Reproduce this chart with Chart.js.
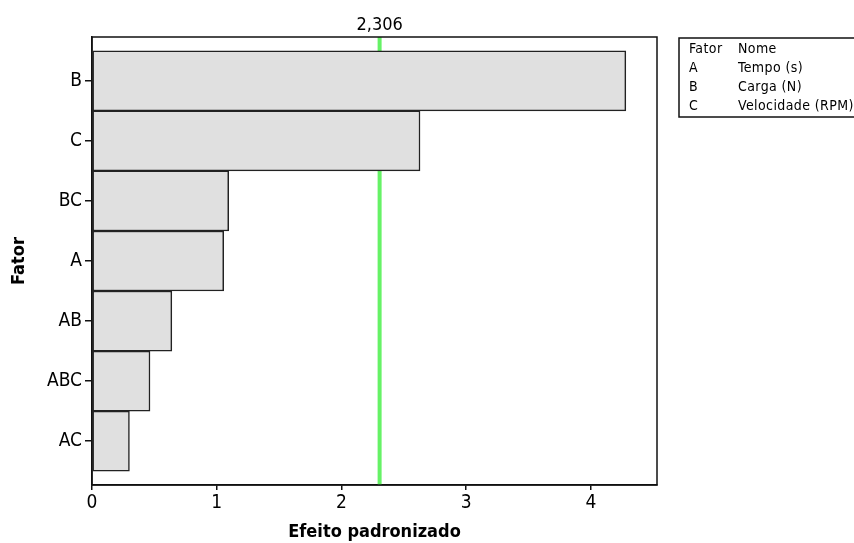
<!DOCTYPE html>
<html>
<head>
<meta charset="utf-8">
<script src="https://cdn.jsdelivr.net/npm/chart.js@4/dist/chart.umd.min.js"></script>
<style>
  html, body { margin: 0; padding: 0; background: #fff; }
  #wrap { width: 854px; height: 543px; }
</style>
</head>
<body>
<div id="wrap"><canvas id="chart" width="854" height="543"></canvas></div>
<script>
// fatores do gráfico de Pareto
const fatores = ['B', 'C', 'BC', 'A', 'AB', 'ABC', 'AC'];
const efeitos = [4.28, 2.63, 1.096, 1.056, 0.64, 0.465, 0.30];
const limite = 2.306;
const limiteTexto = '2,306';
const xTicks = [0, 1, 2, 3, 4];

const legendaFatores = ['Fator', 'A', 'B', 'C'];
const legendaNomes = ['Nome', 'Tempo (s)', 'Carga (N)', 'Velocidade (RPM)'];

const FONT = '"DejaVu Sans Condensed", "DejaVu Sans", sans-serif';

// linha verde de referência + texto
const linhaLimite = {
  id: 'linhaLimite',
  beforeDatasetsDraw(chart) {
    const { ctx, chartArea, scales } = chart;
    const x = scales.x.getPixelForValue(limite);
    ctx.save();
    ctx.strokeStyle = '#66f266';
    ctx.lineWidth = 4;
    ctx.beginPath();
    ctx.moveTo(x, chartArea.top);
    ctx.lineTo(x, chartArea.bottom);
    ctx.stroke();
    ctx.fillStyle = '#000';
    ctx.font = '18px ' + FONT;
    ctx.textAlign = 'center';
    ctx.textBaseline = 'bottom';
    ctx.fillText(limiteTexto, x, chartArea.top - 3);
    ctx.restore();
  },
  afterDatasetsDraw(chart) {
    const { ctx, chartArea } = chart;
    ctx.save();
    ctx.strokeStyle = '#111';
    ctx.lineWidth = 1.5;
    ctx.strokeRect(chartArea.left, chartArea.top, chartArea.right - chartArea.left, chartArea.bottom - chartArea.top);
    ctx.restore();
  }
};

// caixa com os nomes dos fatores
const tabelaFatores = {
  id: 'tabelaFatores',
  afterDraw(chart) {
    const ctx = chart.ctx;
    ctx.save();
    ctx.strokeStyle = '#111';
    ctx.lineWidth = 1.5;
    ctx.strokeRect(679, 38, 180, 79);
    ctx.fillStyle = '#000';
    ctx.font = '14px ' + FONT;
    ctx.letterSpacing = '0.4px';
    ctx.textBaseline = 'middle';
    ctx.textAlign = 'left';
    legendaFatores.forEach((f, i) => {
      const y = 49 + i * 19;
      ctx.fillText(f, 689, y);
      ctx.fillText(legendaNomes[i], 738, y);
    });
    ctx.restore();
  }
};

new Chart(document.getElementById('chart'), {
  type: 'bar',
  data: {
    datasets: [{
      data: efeitos.map((v, i) => ({ x: v, y: i })),
      backgroundColor: '#e0e0e0',
      borderColor: '#222',
      borderWidth: 1.5,
      borderSkipped: false,
      categoryPercentage: 1,
      barPercentage: 1
    }]
  },
  options: {
    indexAxis: 'y',
    responsive: false,
    animation: false,
    layout: { padding: { top: 37, right: 197, left: 0, bottom: 0 } },
    plugins: { legend: { display: false }, tooltip: { enabled: false } },
    scales: {
      x: {
        type: 'linear',
        min: 0,
        max: 4.53,
        afterFit(s) { s.height = 58; },
        afterBuildTicks(s) { s.ticks = xTicks.map(v => ({ value: v })); },
        ticks: { stepSize: 1, includeBounds: false, color: '#000', font: { family: FONT, size: 19 }, padding: 2 },
        grid: { display: true, drawOnChartArea: false, tickLength: 5, color: '#111', lineWidth: 1.5 },
        border: { display: true, color: '#111', width: 1.5 },
        title: { display: true, text: 'Efeito padronizado', color: '#000', font: { family: FONT, size: 18, weight: 'bold' }, padding: { top: 0, bottom: 0 } }
      },
      y: {
        type: 'linear',
        reverse: true,
        offset: false,
        min: -0.73,
        max: 6.73,
        afterFit(s) { s.width = 92; },
        afterBuildTicks(s) { s.ticks = fatores.map((f, i) => ({ value: i })); },
        ticks: {
          stepSize: 1,
          color: '#000',
          font: { family: FONT, size: 19 },
          padding: 3,
          callback: v => fatores[v] || ''
        },
        grid: { display: true, offset: false, drawOnChartArea: false, tickLength: 7, color: '#111', lineWidth: 1.5 },
        border: { display: true, color: '#111', width: 1.5 },
        title: { display: true, text: 'Fator', color: '#000', font: { family: FONT, size: 18, weight: 'bold' }, padding: { top: 9, bottom: 0 } }
      }
    }
  },
  plugins: [linhaLimite, tabelaFatores]
});
</script>
</body>
</html>
